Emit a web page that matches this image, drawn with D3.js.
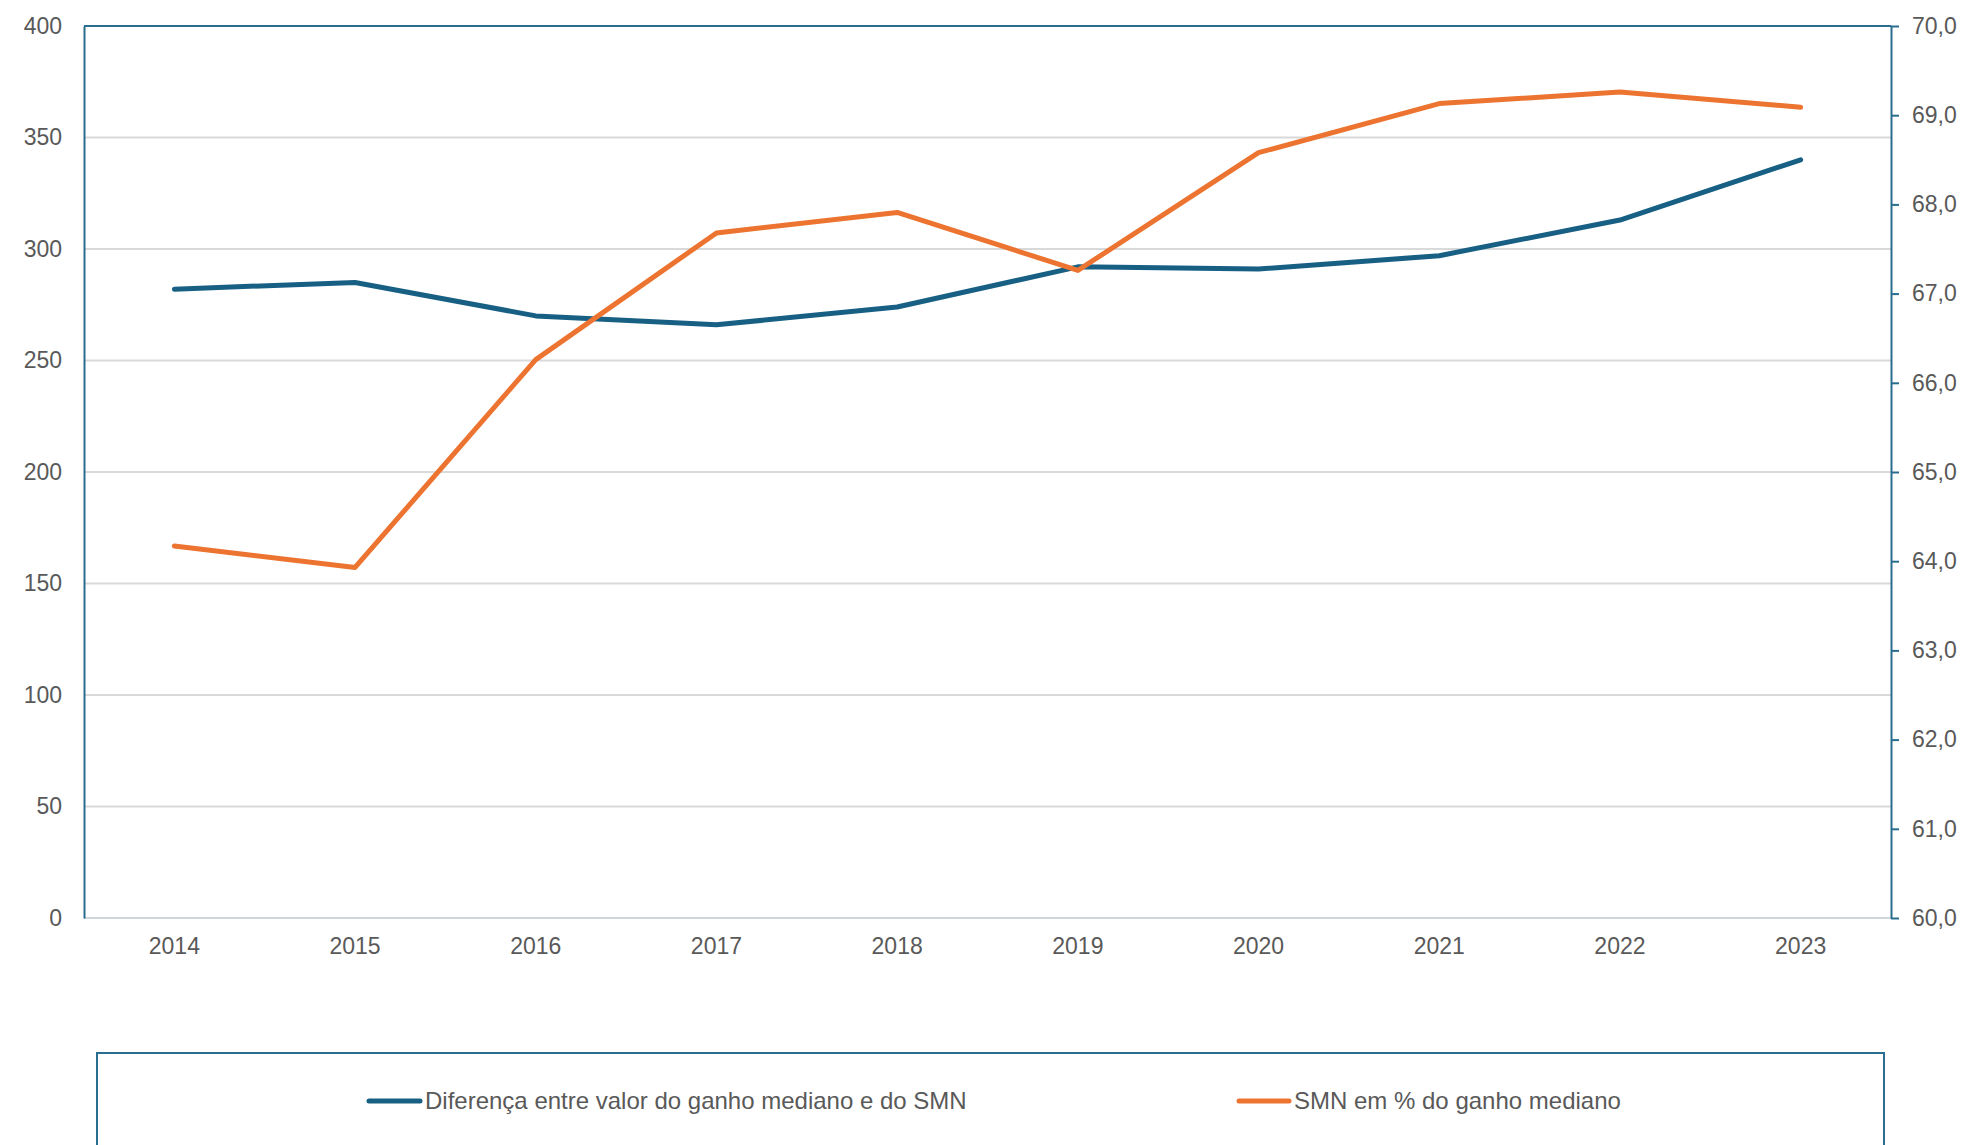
<!DOCTYPE html>
<html>
<head>
<meta charset="utf-8">
<script src="https://cdn.jsdelivr.net/npm/d3@7"></script>
<style>
  html, body { margin: 0; padding: 0; background: #ffffff; }
  svg text { font-family: "Liberation Sans", Arial, sans-serif; fill: #595959; }
</style>
</head>
<body>
<svg id="chart" width="1971" height="1145"></svg>
<script>
// Years on the category axis
const years = ["2014", "2015", "2016", "2017", "2018", "2019", "2020", "2021", "2022", "2023"];

// Difference between median earnings and the minimum wage (left axis, euros)
const diferenca = [282, 285, 270, 266, 274, 292, 291, 297, 313, 340];

// Minimum wage as % of median earnings (right axis)
const smnPct = [64.17, 63.93, 66.26, 67.68, 67.91, 67.26, 68.58, 69.13, 69.26, 69.09];

// Tick values for both vertical axes
const leftTicks = [0, 50, 100, 150, 200, 250, 300, 350, 400];
const rightTicks = [60, 61, 62, 63, 64, 65, 66, 67, 68, 69, 70];

const seriesNames = ["Diferença entre valor do ganho mediano e do SMN", "SMN em % do ganho mediano"];

const colBlue = "#185f84";
const colOrange = "#ec7430";
const colAxis = "#2b6d8e";
const colGrid = "#d9d9d9";

const margin = { left: 84, right: 1891, top: 26, bottom: 918 };

const svg = d3.select("#chart");

const x = d3.scaleBand().domain(years).range([margin.left, margin.right]);
const yL = d3.scaleLinear().domain([0, 400]).range([margin.bottom, margin.top]);
const yR = d3.scaleLinear().domain([60, 70]).range([margin.bottom, margin.top]);

// Horizontal gridlines
svg.append("g")
  .selectAll("line")
  .data(leftTicks.filter(t => t > 0 && t < 400))
  .join("line")
  .attr("x1", margin.left).attr("x2", margin.right)
  .attr("y1", d => yL(d)).attr("y2", d => yL(d))
  .attr("stroke", colGrid).attr("stroke-width", 2);

// Category axis baseline
svg.append("line")
  .attr("x1", margin.left).attr("x2", margin.right)
  .attr("y1", margin.bottom).attr("y2", margin.bottom)
  .attr("stroke", "#cfd6da").attr("stroke-width", 2);

// Top frame line
svg.append("line")
  .attr("x1", margin.left).attr("x2", margin.right)
  .attr("y1", margin.top).attr("y2", margin.top)
  .attr("stroke", colAxis).attr("stroke-width", 2);

// Left axis
const leftAxis = svg.append("g")
  .attr("transform", `translate(${margin.left},0)`)
  .call(d3.axisLeft(yL).tickValues(leftTicks).tickSize(0).tickPadding(22).tickFormat(d3.format("d")));
leftAxis.select(".domain").attr("stroke", colAxis).attr("stroke-width", 2);
leftAxis.selectAll("text").style("font-size", "23px").attr("fill", "#595959");

// Right axis
const fmtComma = v => d3.format(".1f")(v).replace(".", ",");
const rightAxis = svg.append("g")
  .attr("transform", `translate(${margin.right},0)`)
  .call(d3.axisRight(yR).tickValues(rightTicks).tickSize(8).tickSizeOuter(0).tickPadding(13).tickFormat(fmtComma));
rightAxis.select(".domain").attr("stroke", colAxis).attr("stroke-width", 2);
rightAxis.selectAll(".tick line").attr("stroke", colAxis).attr("stroke-width", 2);
rightAxis.selectAll("text").style("font-size", "23px").attr("fill", "#595959");

// Bottom axis labels
const bottomAxis = svg.append("g")
  .attr("transform", `translate(0,${margin.bottom})`)
  .call(d3.axisBottom(x).tickSize(0).tickPadding(20));
bottomAxis.select(".domain").remove();
bottomAxis.selectAll("text").style("font-size", "23px").attr("fill", "#595959");

const cx = d => x(d) + x.bandwidth() / 2;

// Series lines
const lineL = d3.line().x((d, i) => cx(years[i])).y(d => yL(d));
const lineR = d3.line().x((d, i) => cx(years[i])).y(d => yR(d));

svg.append("path")
  .datum(diferenca)
  .attr("d", lineL)
  .attr("fill", "none")
  .attr("stroke", colBlue)
  .attr("stroke-width", 5)
  .attr("stroke-linecap", "round")
  .attr("stroke-linejoin", "round");

svg.append("path")
  .datum(smnPct)
  .attr("d", lineR)
  .attr("fill", "none")
  .attr("stroke", colOrange)
  .attr("stroke-width", 5)
  .attr("stroke-linecap", "round")
  .attr("stroke-linejoin", "round");

// Legend
svg.append("rect")
  .attr("x", 97).attr("y", 1053)
  .attr("width", 1787).attr("height", 140)
  .attr("fill", "none").attr("stroke", colAxis).attr("stroke-width", 2);

const legendItems = [
  { name: seriesNames[0], color: colBlue, x1: 369, x2: 420 },
  { name: seriesNames[1], color: colOrange, x1: 1239, x2: 1289 }
];
const lg = svg.append("g").selectAll("g").data(legendItems).join("g");
lg.append("line")
  .attr("x1", d => d.x1).attr("x2", d => d.x2)
  .attr("y1", 1101).attr("y2", 1101)
  .attr("stroke", d => d.color).attr("stroke-width", 5).attr("stroke-linecap", "round");
lg.append("text")
  .attr("x", d => d.x2 + 5).attr("y", 1101).attr("dy", "0.35em")
  .style("font-size", "24px")
  .text(d => d.name);
</script>
</body>
</html>
